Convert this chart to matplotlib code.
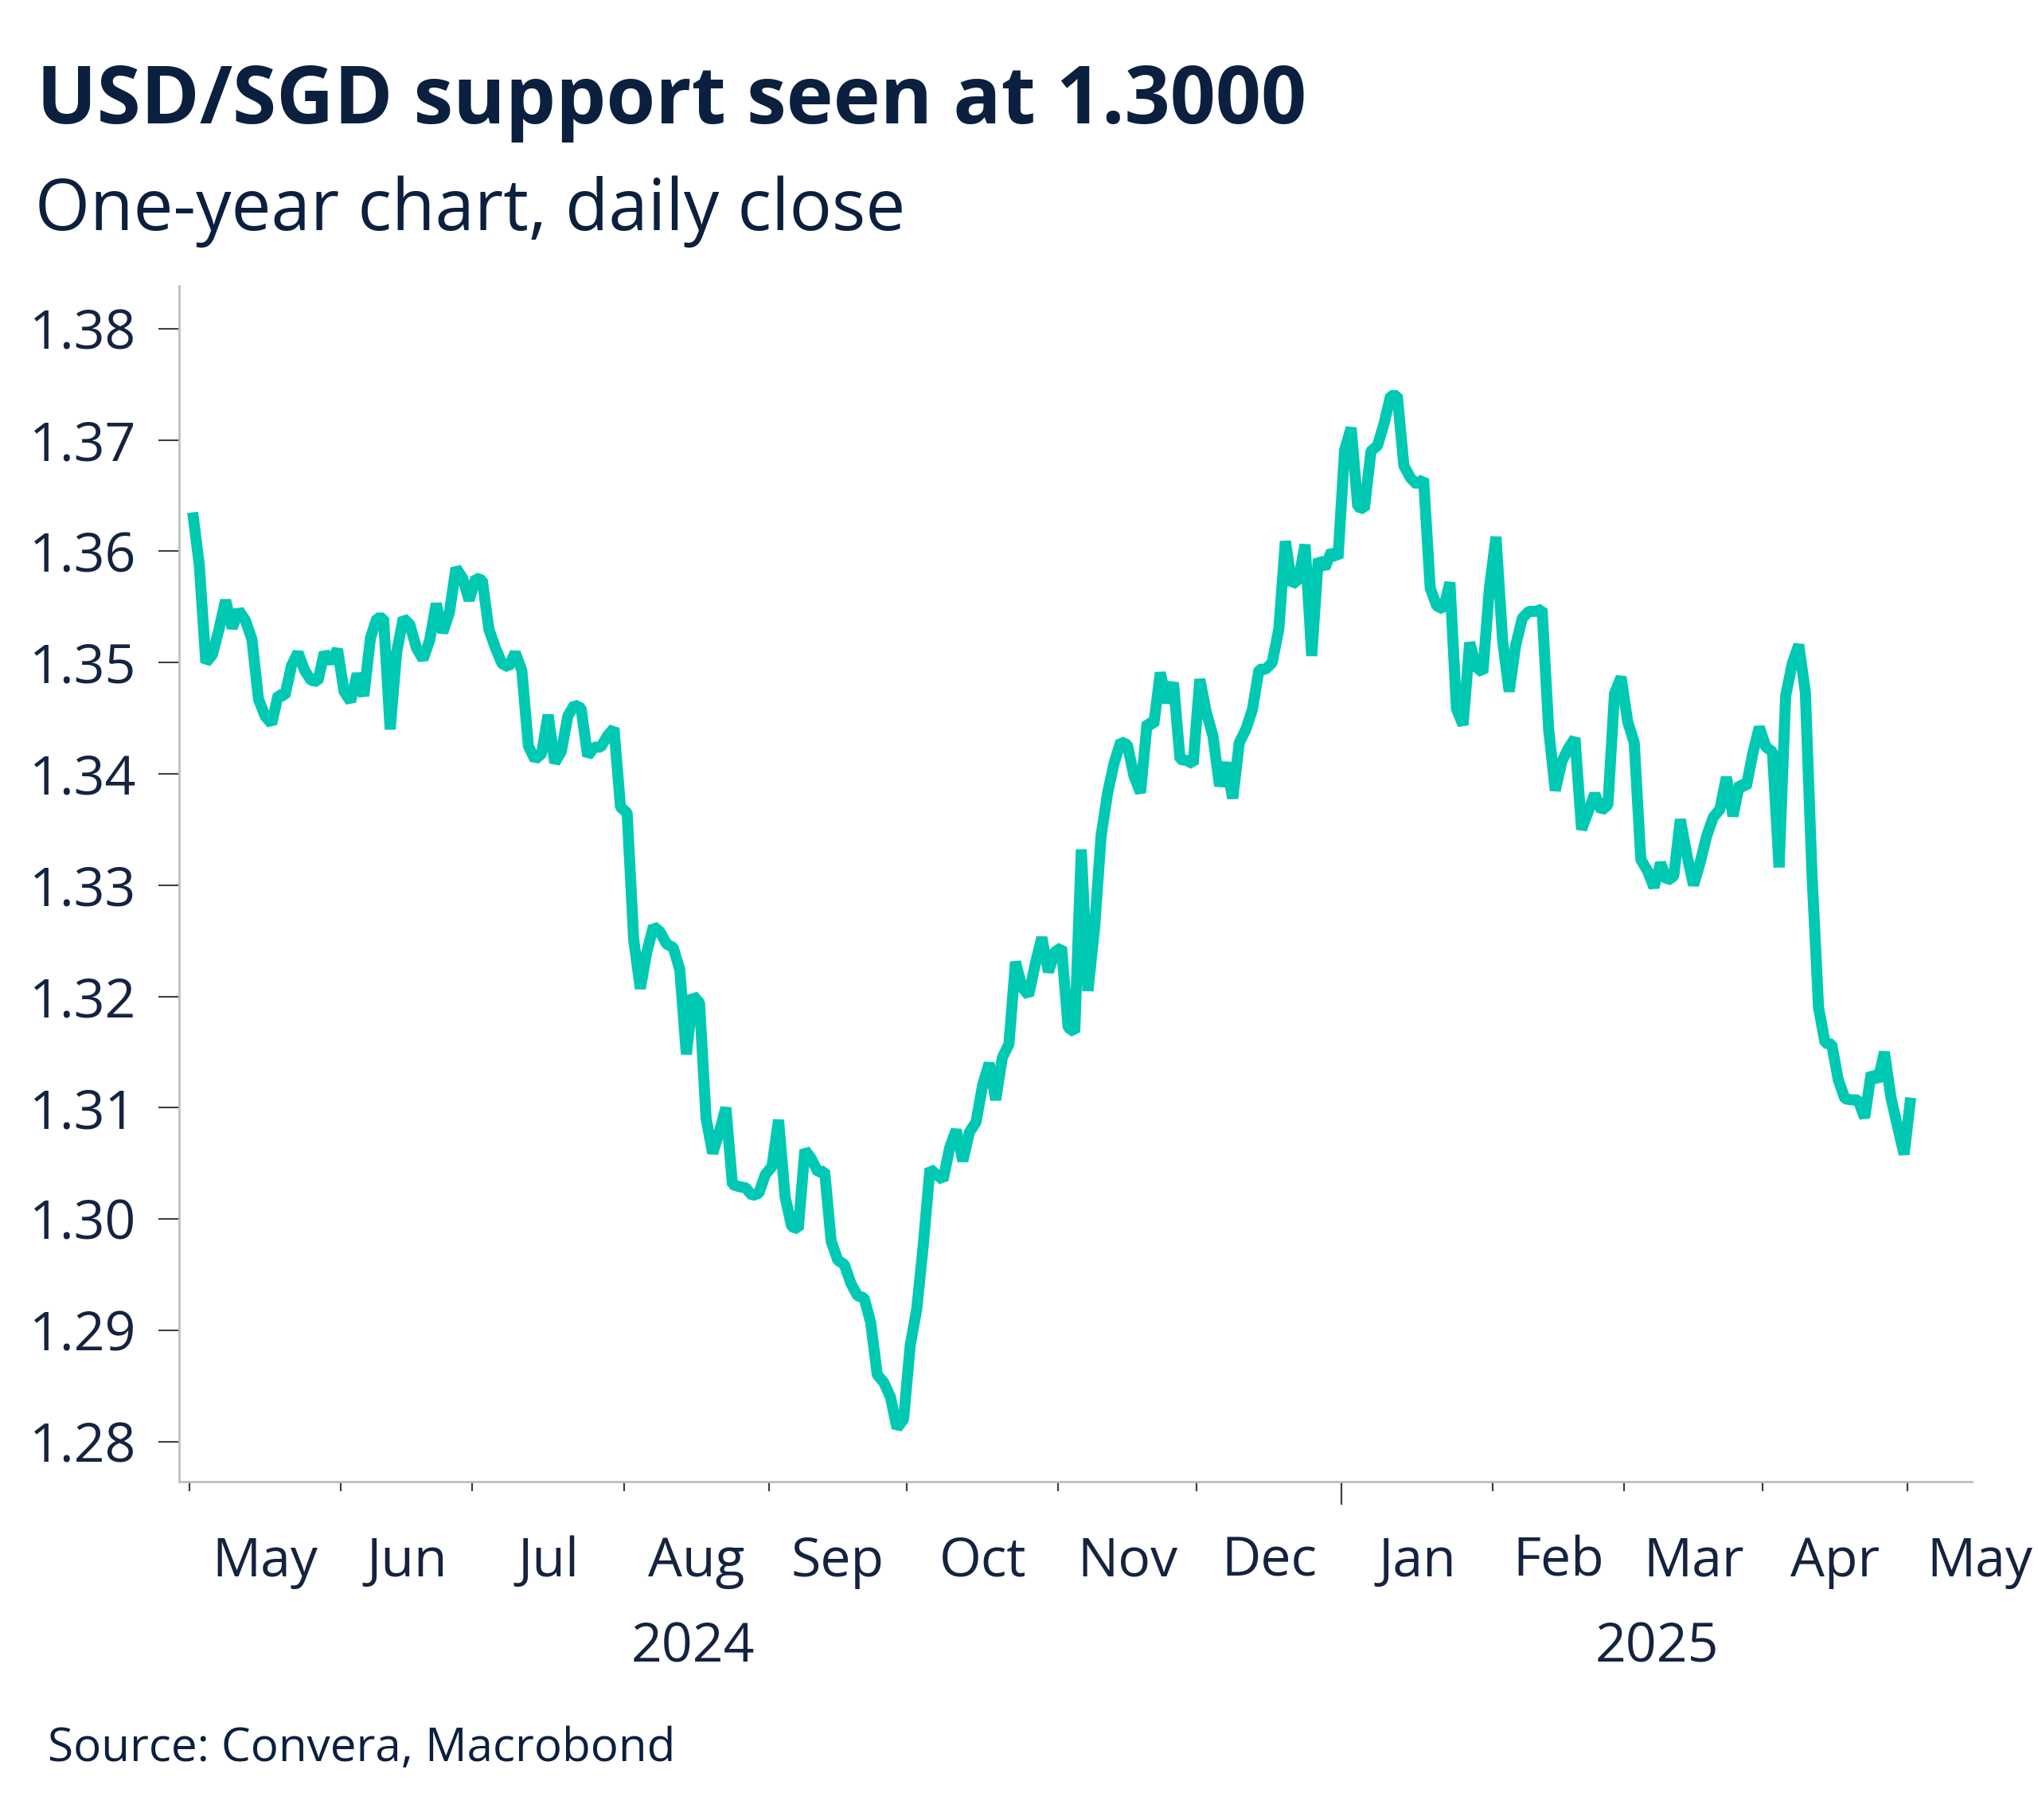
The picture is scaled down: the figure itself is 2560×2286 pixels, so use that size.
import matplotlib
matplotlib.use("Agg")
import matplotlib.pyplot as plt
import matplotlib.transforms as mtransforms
import numpy as np
import pandas as pd

# ---------------- data ----------------
start_date = "2024-05-01"
end_date = "2025-05-01"
usdsgd = [
    1.3635, 1.3588, 1.3500, 1.3507, 1.3530, 1.3556, 1.3531, 1.3547, 1.3538, 1.3521,
    1.3467, 1.3452, 1.3445, 1.3471, 1.3470, 1.3497, 1.3509, 1.3493, 1.3484, 1.3483,
    1.3509, 1.3500, 1.3512, 1.3474, 1.3465, 1.3490, 1.3470, 1.3522, 1.3540, 1.3540,
    1.3440, 1.3510, 1.3540, 1.3534, 1.3513, 1.3503, 1.3520, 1.3553, 1.3527, 1.3545,
    1.3585, 1.3576, 1.3556, 1.3576, 1.3574, 1.3530, 1.3513, 1.3499, 1.3496, 1.3509,
    1.3493, 1.3425, 1.3413, 1.3418, 1.3453, 1.3410, 1.3420, 1.3452, 1.3462, 1.3459,
    1.3416, 1.3424, 1.3424, 1.3434, 1.3441, 1.3370, 1.3365, 1.3251, 1.3207, 1.3240,
    1.3263, 1.3258, 1.3247, 1.3244, 1.3224, 1.3148, 1.3201, 1.3194, 1.3090, 1.3059,
    1.3078, 1.3100, 1.3031, 1.3029, 1.3028, 1.3021, 1.3023, 1.3040, 1.3047, 1.3089,
    1.3020, 1.2993, 1.2991, 1.3062, 1.3054, 1.3042, 1.3043, 1.2980, 1.2963, 1.2959,
    1.2942, 1.2931, 1.2929, 1.2907, 1.2860, 1.2853, 1.2840, 1.2812, 1.2820, 1.2886,
    1.2919, 1.2977, 1.3045, 1.3040, 1.3035, 1.3064, 1.3080, 1.3052, 1.3078, 1.3087,
    1.3120, 1.3140, 1.3107, 1.3145, 1.3157, 1.3231, 1.3208, 1.3201, 1.3229, 1.3253,
    1.3222, 1.3240, 1.3244, 1.3172, 1.3168, 1.3332, 1.3205, 1.3260, 1.3344, 1.3383,
    1.3410, 1.3429, 1.3426, 1.3398, 1.3383, 1.3446, 1.3444, 1.3491, 1.3464, 1.3482,
    1.3413, 1.3412, 1.3409, 1.3485, 1.3455, 1.3434, 1.3389, 1.3410, 1.3378, 1.3428,
    1.3440, 1.3458, 1.3494, 1.3494, 1.3500, 1.3530, 1.3609, 1.3570, 1.3575, 1.3606,
    1.3506, 1.3593, 1.3585, 1.3600, 1.3594, 1.3691, 1.3711, 1.3640, 1.3638, 1.3690,
    1.3695, 1.3715, 1.3740, 1.3740, 1.3677, 1.3666, 1.3660, 1.3665, 1.3567, 1.3551,
    1.3548, 1.3572, 1.3458, 1.3444, 1.3518, 1.3496, 1.3491, 1.3567, 1.3613, 1.3520,
    1.3474, 1.3516, 1.3540, 1.3546, 1.3546, 1.3548, 1.3440, 1.3385, 1.3411, 1.3423,
    1.3432, 1.3350, 1.3366, 1.3382, 1.3367, 1.3372, 1.3472, 1.3487, 1.3447, 1.3428,
    1.3323, 1.3313, 1.3298, 1.3320, 1.3304, 1.3308, 1.3359, 1.3327, 1.3300, 1.3320,
    1.3344, 1.3361, 1.3368, 1.3397, 1.3362, 1.3391, 1.3388, 1.3418, 1.3442, 1.3424,
    1.3420, 1.3316, 1.3470, 1.3499, 1.3516, 1.3473, 1.3310, 1.3190, 1.3158, 1.3157,
    1.3125, 1.3108, 1.3107, 1.3107, 1.3091, 1.3131, 1.3124, 1.3150, 1.3109, 1.3083,
    1.3058, 1.3109,
]
y_ticks = [1.28, 1.29, 1.30, 1.31, 1.32, 1.33, 1.34, 1.35, 1.36, 1.37, 1.38]
month_names = ["May", "Jun", "Jul", "Aug", "Sep", "Oct", "Nov", "Dec",
               "Jan", "Feb", "Mar", "Apr", "May"]
year_labels = ["2024", "2025"]

title = "USD/SGD support seen at 1.3000"
subtitle = "One-year chart, daily close"
source = "Source: Convera, Macrobond"

# ---------------- styling ----------------
LINE = "#00C9B3"
NAVY = "#0B1F3F"
TEXT = "#14233F"
SPINE = "#BFBFBF"
TICK = "#404040"
FONT = ["Open Sans", "DejaVu Sans"]
plt.rcParams["font.family"] = FONT

W, H, DPI = 2560, 2286, 100
fig = plt.figure(figsize=(W / DPI, H / DPI), dpi=DPI)
fig.patch.set_facecolor("white")

L, R, T, B = 225, 2477, 359, 1861
ax = fig.add_axes([L / W, 1 - B / H, (R - L) / W, (B - T) / H])

dates = pd.bdate_range(start_date, end_date)
n = min(len(dates), len(usdsgd))
x = np.arange(n)
ax.plot(x, usdsgd[:n], color=LINE, lw=10.0, solid_joinstyle="bevel",
        solid_capstyle="butt", zorder=3)

ax.set_ylim(1.27639, 1.38386)
ax.set_xlim(-2.06, 270.3)

# y axis
ax.set_yticks(y_ticks)
ax.set_yticklabels([f"{v:.2f}" for v in y_ticks])
ax.tick_params(axis="y", direction="out", length=18.7, width=1.5, color=TICK,
               pad=20, labelsize=49, labelcolor=TEXT)

# x axis: month boundaries in business-day index
full = pd.bdate_range(start_date, "2025-05-31")
month_start_idx = []
month_mid = []
periods = full.to_period("M")
uniq = periods.unique()
for p in uniq:
    pos = np.where(periods == p)[0]
    month_start_idx.append(pos[0] - 0.5)
    month_mid.append((pos[0] + pos[-1]) / 2.0)
ax.set_xticks(month_start_idx)
ax.set_xticklabels([])
ax.tick_params(axis="x", direction="out", length=8.6, width=1.6, color=TICK)
for tk, p in zip(ax.xaxis.get_major_ticks(), uniq):
    if p.month == 1:
        tk.tick1line.set_markersize(21)

for s in ["top", "right"]:
    ax.spines[s].set_visible(False)
for s in ["left", "bottom"]:
    ax.spines[s].set_color(SPINE)
    ax.spines[s].set_linewidth(2.0)

trans = mtransforms.blended_transform_factory(ax.transData, fig.transFigure)
for name, m in zip(month_names, month_mid):
    ax.text(m, 1 - 1980 / H, name, transform=trans, ha="center", va="baseline",
            fontsize=49, color=TEXT, clip_on=False)

year_x = [76.0, (month_start_idx[8] + 270.3) / 2.0]
for lab, xx in zip(year_labels, year_x):
    ax.text(xx, 1 - 2087 / H, lab, transform=trans, ha="center", va="baseline",
            fontsize=49, color=TEXT, clip_on=False)

fig.text(46 / W, 1 - 155 / H, title, fontsize=72, fontweight="bold",
         color=NAVY, ha="left", va="baseline")
fig.text(44 / W, 1 - 289 / H, subtitle, fontsize=64, color=NAVY,
         ha="left", va="baseline")
fig.text(60 / W, 1 - 2212 / H, source, fontsize=42, color=NAVY,
         ha="left", va="baseline")

fig.savefig("out.png", dpi=DPI, facecolor="white")
